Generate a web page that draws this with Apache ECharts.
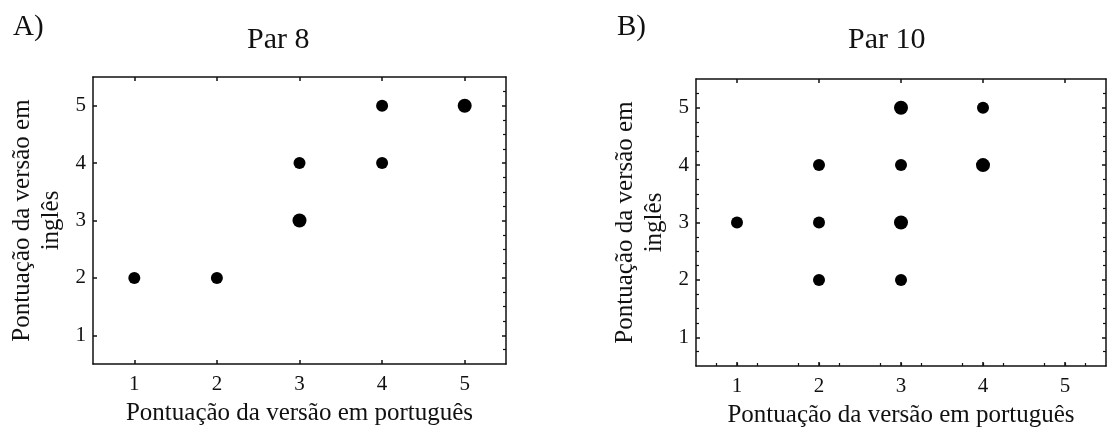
<!DOCTYPE html>
<html>
<head>
<meta charset="utf-8">
<script src="https://cdn.jsdelivr.net/npm/echarts@6/dist/echarts.min.js"></script>
<style>
html,body{margin:0;padding:0;background:#fff;}
#chart{width:1108px;height:435px;}
</style>
</head>
<body>
<div id="chart"></div>
<script>
// ---- data ----
const panelLabels = ["A)", "B)"];
const panelTitles = ["Par 8", "Par 10"];
const xAxisTitle = "Pontuação da versão em português";
const yAxisTitle = "Pontuação da versão em\ninglês";
const tickValues = [1, 2, 3, 4, 5];

// Par 8: portuguese score (x), english score (y), number of overlapping pairs
const par8X = [1, 2, 3, 3, 4, 4, 5];
const par8Y = [2, 2, 3, 4, 4, 5, 5];
const par8N = [1, 1, 2, 1, 1, 1, 2];

// Par 10
const par10X = [1, 2, 2, 2, 3, 3, 3, 3, 4, 4];
const par10Y = [3, 2, 3, 4, 2, 3, 4, 5, 4, 5];
const par10N = [1, 1, 1, 1, 1, 2, 1, 2, 2, 1];

// ---- styling ----
const FONT = '"Liberation Serif", "DejaVu Serif", serif';
const INK = '#111';
const grids = [
  { left: 93, top: 77, width: 413, height: 287 },
  { left: 696, top: 79, width: 410, height: 287 }
];
const titleLefts = [242, 843];
const labelLefts = [8, 612];
const minorBottom = [false, true];
const minorLeft = [false, true];

function pts(xs, ys, ns) {
  return xs.map((x, i) => [x, ys[i], ns[i]]);
}
const seriesData = [pts(par8X, par8Y, par8N), pts(par10X, par10Y, par10N)];

const lineStyle = { color: INK, width: 1.5 };
const xAxes = [], yAxes = [], series = [], titles = [];

for (let g = 0; g < 2; g++) {
  xAxes.push({
    gridIndex: g, type: 'value', position: 'bottom', min: 0.5, max: 5.5,
    interval: 1,
    axisLine: { show: true, onZero: false, lineStyle },
    axisTick: { show: true, inside: true, length: 4, lineStyle: { color: INK, width: 1.5 },
      customValues: tickValues },
    minorTick: { show: minorBottom[g], splitNumber: 4, length: 3, lineStyle: { color: INK, width: 1.2 } },
    axisLabel: { color: INK, fontFamily: FONT, fontSize: 21, margin: 10, customValues: tickValues },
    splitLine: { show: false },
    name: xAxisTitle, nameLocation: 'middle', nameGap: 37,
    nameTextStyle: { color: INK, fontFamily: FONT, fontSize: 25 }
  });
  xAxes.push({
    gridIndex: g, type: 'value', position: 'top', min: 0.5, max: 5.5,
    axisLine: { show: true, onZero: false, lineStyle },
    axisTick: { show: true, inside: true, length: 4, lineStyle: { color: INK, width: 1.5 },
      customValues: tickValues },
    axisLabel: { show: false },
    splitLine: { show: false }
  });
  yAxes.push({
    gridIndex: g, type: 'value', position: 'left', min: 0.5, max: 5.5,
    axisLine: { show: true, onZero: false, lineStyle },
    axisTick: { show: true, inside: true, length: 4, lineStyle: { color: INK, width: 1.5 },
      customValues: tickValues },
    minorTick: { show: minorLeft[g], splitNumber: 4, length: 3, lineStyle: { color: INK, width: 1.2 } },
    axisLabel: { color: INK, fontFamily: FONT, fontSize: 21, margin: 7, customValues: tickValues },
    splitLine: { show: false },
    name: yAxisTitle, nameLocation: 'middle', nameGap: 27, nameRotate: 90,
    nameTextStyle: { color: INK, fontFamily: FONT, fontSize: 25, lineHeight: 29, align: 'center' }
  });
  yAxes.push({
    gridIndex: g, type: 'value', position: 'right', min: 0.5, max: 5.5,
    axisLine: { show: true, onZero: false, lineStyle },
    axisTick: { show: true, inside: true, length: 4, lineStyle: { color: INK, width: 1.5 },
      customValues: tickValues },
    minorTick: { show: true, splitNumber: 4, length: 3, lineStyle: { color: INK, width: 1.2 } },
    axisLabel: { show: false },
    splitLine: { show: false }
  });
  series.push({
    type: 'scatter',
    xAxisIndex: g * 2, yAxisIndex: g * 2,
    data: seriesData[g],
    symbol: 'circle',
    symbolSize: d => 12 + (d[2] - 1) * 2,
    itemStyle: { color: '#000', opacity: 1 },
    silent: true
  });
  titles.push({
    text: panelTitles[g], left: titleLefts[g], top: 20,
    textStyle: { color: INK, fontFamily: FONT, fontSize: 30, fontWeight: 'normal' }
  });
  titles.push({
    text: panelLabels[g], left: labelLefts[g], top: 8,
    textStyle: { color: INK, fontFamily: FONT, fontSize: 29, fontWeight: 'normal' }
  });
}

const chart = echarts.init(document.getElementById('chart'), null, { renderer: 'canvas' });
chart.setOption({
  animation: false,
  backgroundColor: '#fff',
  title: titles,
  grid: grids,
  xAxis: xAxes,
  yAxis: yAxes,
  series: series
});
</script>
</body>
</html>
